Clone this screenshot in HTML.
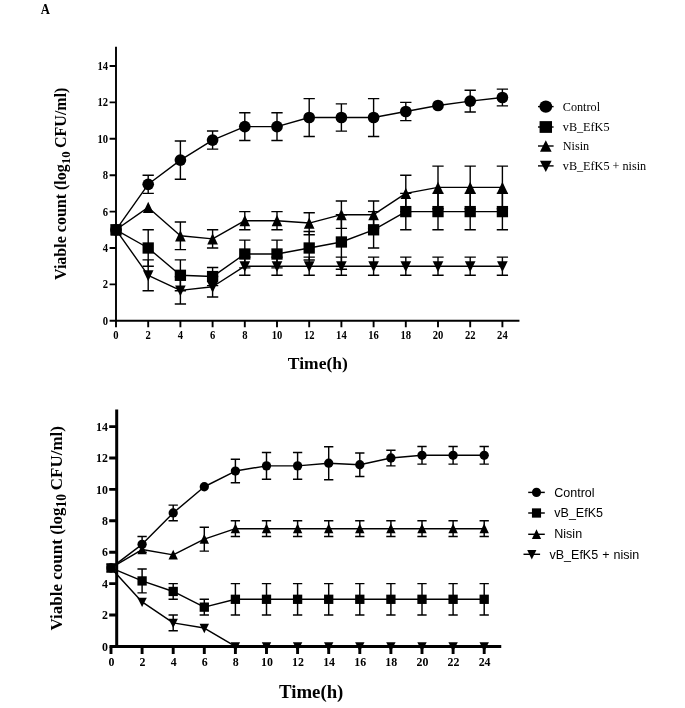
<!DOCTYPE html>
<html><head><meta charset="utf-8"><title>Figure</title>
<style>html,body{margin:0;padding:0;background:#fff}body{width:685px;height:708px;overflow:hidden;font-family:"Liberation Serif",serif}</style>
</head><body>
<svg width="685" height="708" viewBox="0 0 685 708" style="display:block;will-change:transform" font-family="'Liberation Serif',serif" fill="#000">
<rect width="685" height="708" fill="#fff"/>
<text transform="translate(40.7 13.9) scale(1 1.18)" font-size="12.7" font-weight="bold">A</text>
<path d="M116 229.8L148.2 184.3L180.4 160.09L212.6 140.07L244.8 126.61L277 126.61L309.2 117.51L341.4 117.51L373.6 117.51L405.8 111.5L438 105.49L470.2 101.13L502.4 97.49" fill="none" stroke="#000" stroke-width="1.4" stroke-linejoin="round"/>
<path d="M148.2 175.2V193.4M142.55 175.2H153.85M142.55 193.4H153.85M180.4 140.98V179.2M174.75 140.98H186.05M174.75 179.2H186.05M212.6 130.97V149.17M206.95 130.97H218.25M206.95 149.17H218.25M244.8 112.77V140.44M239.15 112.77H250.45M239.15 140.44H250.45M277 112.77V140.44M271.35 112.77H282.65M271.35 140.44H282.65M309.2 98.58V136.43M303.55 98.58H314.85M303.55 136.43H314.85M341.4 103.86V131.16M335.75 103.86H347.05M335.75 131.16H347.05M373.6 98.58V136.43M367.95 98.58H379.25M367.95 136.43H379.25M405.8 102.4V120.6M400.15 102.4H411.45M400.15 120.6H411.45M470.2 90.21V112.05M464.55 90.21H475.85M464.55 112.05H475.85M502.4 89.11V105.86M496.75 89.11H508.05M496.75 105.86H508.05" fill="none" stroke="#000" stroke-width="1.4"/>
<g fill="#000"><circle cx="116" cy="229.8" r="5.85"/><circle cx="148.2" cy="184.3" r="5.85"/><circle cx="180.4" cy="160.09" r="5.85"/><circle cx="212.6" cy="140.07" r="5.85"/><circle cx="244.8" cy="126.61" r="5.85"/><circle cx="277" cy="126.61" r="5.85"/><circle cx="309.2" cy="117.51" r="5.85"/><circle cx="341.4" cy="117.51" r="5.85"/><circle cx="373.6" cy="117.51" r="5.85"/><circle cx="405.8" cy="111.5" r="5.85"/><circle cx="438" cy="105.49" r="5.85"/><circle cx="470.2" cy="101.13" r="5.85"/><circle cx="502.4" cy="97.49" r="5.85"/></g>
<path d="M116 229.8L148.2 207.41L180.4 235.81L212.6 238.9L244.8 220.7L277 220.7L309.2 223.07L341.4 214.69L373.6 214.69L405.8 193.4L438 187.39L470.2 187.39L502.4 187.39" fill="none" stroke="#000" stroke-width="1.4" stroke-linejoin="round"/>
<path d="M180.4 221.97V249.64M174.75 221.97H186.05M174.75 249.64H186.05M212.6 229.8V248M206.95 229.8H218.25M206.95 248H218.25M244.8 211.6V229.8M239.15 211.6H250.45M239.15 229.8H250.45M277 211.6V229.8M271.35 211.6H282.65M271.35 229.8H282.65M309.2 212.69V234.71M303.55 212.69H314.85M303.55 234.71H314.85M341.4 201.04V228.34M335.75 201.04H347.05M335.75 228.34H347.05M373.6 201.04V228.34M367.95 201.04H379.25M367.95 228.34H379.25M405.8 175.2V211.6M400.15 175.2H411.45M400.15 211.6H411.45M438 166.1V208.69M432.35 166.1H443.65M432.35 208.69H443.65M470.2 166.1V208.69M464.55 166.1H475.85M464.55 208.69H475.85M502.4 166.1V208.69M496.75 166.1H508.05M496.75 208.69H508.05" fill="none" stroke="#000" stroke-width="1.4"/>
<g fill="#000"><path d="M116 224.2L121.3 235.4L110.7 235.4Z"/><path d="M148.2 201.81L153.5 213.01L142.9 213.01Z"/><path d="M180.4 230.21L185.7 241.41L175.1 241.41Z"/><path d="M212.6 233.3L217.9 244.5L207.3 244.5Z"/><path d="M244.8 215.1L250.1 226.3L239.5 226.3Z"/><path d="M277 215.1L282.3 226.3L271.7 226.3Z"/><path d="M309.2 217.47L314.5 228.67L303.9 228.67Z"/><path d="M341.4 209.09L346.7 220.29L336.1 220.29Z"/><path d="M373.6 209.09L378.9 220.29L368.3 220.29Z"/><path d="M405.8 187.8L411.1 199L400.5 199Z"/><path d="M438 181.79L443.3 192.99L432.7 192.99Z"/><path d="M470.2 181.79L475.5 192.99L464.9 192.99Z"/><path d="M502.4 181.79L507.7 192.99L497.1 192.99Z"/></g>
<path d="M116 229.8L148.2 275.3L180.4 290.41L212.6 286.77L244.8 266.2L277 266.2L309.2 266.2L341.4 266.2L373.6 266.2L405.8 266.2L438 266.2L470.2 266.2L502.4 266.2" fill="none" stroke="#000" stroke-width="1.4" stroke-linejoin="round"/>
<path d="M148.2 259.83V290.77M142.55 259.83H153.85M142.55 290.77H153.85M180.4 276.76V304.06M174.75 276.76H186.05M174.75 304.06H186.05M212.6 276.57V296.96M206.95 276.57H218.25M206.95 296.96H218.25M244.8 257.1V275.3M239.15 257.1H250.45M239.15 275.3H250.45M277 257.1V275.3M271.35 257.1H282.65M271.35 275.3H282.65M309.2 257.1V275.3M303.55 257.1H314.85M303.55 275.3H314.85M341.4 257.1V275.3M335.75 257.1H347.05M335.75 275.3H347.05M373.6 257.1V275.3M367.95 257.1H379.25M367.95 275.3H379.25M405.8 257.1V275.3M400.15 257.1H411.45M400.15 275.3H411.45M438 257.1V275.3M432.35 257.1H443.65M432.35 275.3H443.65M470.2 257.1V275.3M464.55 257.1H475.85M464.55 275.3H475.85M502.4 257.1V275.3M496.75 257.1H508.05M496.75 275.3H508.05" fill="none" stroke="#000" stroke-width="1.4"/>
<g fill="#000"><path d="M116 235.7L121.3 224.8L110.7 224.8Z"/><path d="M148.2 281.2L153.5 270.3L142.9 270.3Z"/><path d="M180.4 296.31L185.7 285.41L175.1 285.41Z"/><path d="M212.6 292.67L217.9 281.77L207.3 281.77Z"/><path d="M244.8 272.1L250.1 261.2L239.5 261.2Z"/><path d="M277 272.1L282.3 261.2L271.7 261.2Z"/><path d="M309.2 272.1L314.5 261.2L303.9 261.2Z"/><path d="M341.4 272.1L346.7 261.2L336.1 261.2Z"/><path d="M373.6 272.1L378.9 261.2L368.3 261.2Z"/><path d="M405.8 272.1L411.1 261.2L400.5 261.2Z"/><path d="M438 272.1L443.3 261.2L432.7 261.2Z"/><path d="M470.2 272.1L475.5 261.2L464.9 261.2Z"/><path d="M502.4 272.1L507.7 261.2L497.1 261.2Z"/></g>
<path d="M116 229.8L148.2 248L180.4 275.3L212.6 276.57L244.8 254.01L277 254.01L309.2 248L341.4 241.99L373.6 229.8L405.8 211.6L438 211.6L470.2 211.6L502.4 211.6" fill="none" stroke="#000" stroke-width="1.4" stroke-linejoin="round"/>
<path d="M148.2 229.8V266.2M142.55 229.8H153.85M142.55 266.2H153.85M180.4 259.83V290.77M174.75 259.83H186.05M174.75 290.77H186.05M212.6 267.47V285.67M206.95 267.47H218.25M206.95 285.67H218.25M244.8 240.17V267.84M239.15 240.17H250.45M239.15 267.84H250.45M277 240.17V267.84M271.35 240.17H282.65M271.35 267.84H282.65M309.2 231.44V260.01M303.55 231.44H314.85M303.55 260.01H314.85M341.4 214.69V269.29M335.75 214.69H347.05M335.75 269.29H347.05M373.6 211.6V248M367.95 211.6H379.25M367.95 248H379.25M405.8 193.4V229.8M400.15 193.4H411.45M400.15 229.8H411.45M438 193.4V229.8M432.35 193.4H443.65M432.35 229.8H443.65M470.2 193.4V229.8M464.55 193.4H475.85M464.55 229.8H475.85M502.4 193.4V229.8M496.75 193.4H508.05M496.75 229.8H508.05" fill="none" stroke="#000" stroke-width="1.4"/>
<g fill="#000"><rect x="110.35" y="224.15" width="11.3" height="11.3"/><rect x="142.55" y="242.35" width="11.3" height="11.3"/><rect x="174.75" y="269.65" width="11.3" height="11.3"/><rect x="206.95" y="270.92" width="11.3" height="11.3"/><rect x="239.15" y="248.36" width="11.3" height="11.3"/><rect x="271.35" y="248.36" width="11.3" height="11.3"/><rect x="303.55" y="242.35" width="11.3" height="11.3"/><rect x="335.75" y="236.34" width="11.3" height="11.3"/><rect x="367.95" y="224.15" width="11.3" height="11.3"/><rect x="400.15" y="205.95" width="11.3" height="11.3"/><rect x="432.35" y="205.95" width="11.3" height="11.3"/><rect x="464.55" y="205.95" width="11.3" height="11.3"/><rect x="496.75" y="205.95" width="11.3" height="11.3"/></g>
<path d="M116 46.85V327.2M109.6 320.8H519.45" fill="none" stroke="#000" stroke-width="1.9"/>
<path d="M148.2 320.8V327.2M180.4 320.8V327.2M212.6 320.8V327.2M244.8 320.8V327.2M277 320.8V327.2M309.2 320.8V327.2M341.4 320.8V327.2M373.6 320.8V327.2M405.8 320.8V327.2M438 320.8V327.2M470.2 320.8V327.2M502.4 320.8V327.2M109.6 284.4H116M109.6 248H116M109.6 211.6H116M109.6 175.2H116M109.6 138.8H116M109.6 102.4H116M109.6 66H116" fill="none" stroke="#000" stroke-width="1.9"/>
<text transform="translate(116 338.9) scale(1 1.1)" text-anchor="middle" font-size="10.6" font-weight="bold">0</text>
<text transform="translate(148.2 338.9) scale(1 1.1)" text-anchor="middle" font-size="10.6" font-weight="bold">2</text>
<text transform="translate(180.4 338.9) scale(1 1.1)" text-anchor="middle" font-size="10.6" font-weight="bold">4</text>
<text transform="translate(212.6 338.9) scale(1 1.1)" text-anchor="middle" font-size="10.6" font-weight="bold">6</text>
<text transform="translate(244.8 338.9) scale(1 1.1)" text-anchor="middle" font-size="10.6" font-weight="bold">8</text>
<text transform="translate(277 338.9) scale(1 1.1)" text-anchor="middle" font-size="10.6" font-weight="bold">10</text>
<text transform="translate(309.2 338.9) scale(1 1.1)" text-anchor="middle" font-size="10.6" font-weight="bold">12</text>
<text transform="translate(341.4 338.9) scale(1 1.1)" text-anchor="middle" font-size="10.6" font-weight="bold">14</text>
<text transform="translate(373.6 338.9) scale(1 1.1)" text-anchor="middle" font-size="10.6" font-weight="bold">16</text>
<text transform="translate(405.8 338.9) scale(1 1.1)" text-anchor="middle" font-size="10.6" font-weight="bold">18</text>
<text transform="translate(438 338.9) scale(1 1.1)" text-anchor="middle" font-size="10.6" font-weight="bold">20</text>
<text transform="translate(470.2 338.9) scale(1 1.1)" text-anchor="middle" font-size="10.6" font-weight="bold">22</text>
<text transform="translate(502.4 338.9) scale(1 1.1)" text-anchor="middle" font-size="10.6" font-weight="bold">24</text>
<text transform="translate(108 324.7) scale(1 1.1)" text-anchor="end" font-size="10.6" font-weight="bold">0</text>
<text transform="translate(108 288.3) scale(1 1.1)" text-anchor="end" font-size="10.6" font-weight="bold">2</text>
<text transform="translate(108 251.9) scale(1 1.1)" text-anchor="end" font-size="10.6" font-weight="bold">4</text>
<text transform="translate(108 215.5) scale(1 1.1)" text-anchor="end" font-size="10.6" font-weight="bold">6</text>
<text transform="translate(108 179.1) scale(1 1.1)" text-anchor="end" font-size="10.6" font-weight="bold">8</text>
<text transform="translate(108 142.7) scale(1 1.1)" text-anchor="end" font-size="10.6" font-weight="bold">10</text>
<text transform="translate(108 106.3) scale(1 1.1)" text-anchor="end" font-size="10.6" font-weight="bold">12</text>
<text transform="translate(108 69.9) scale(1 1.1)" text-anchor="end" font-size="10.6" font-weight="bold">14</text>
<text x="317.85" y="368.65" text-anchor="middle" font-size="17.5" font-weight="bold">Time(h)</text>
<text transform="translate(66.3 183.8) rotate(-90)" text-anchor="middle" font-size="16" font-weight="bold">Viable count (log<tspan font-size="12.8" dy="3.84">10</tspan><tspan dy="-3.84" dx="-0.6"> CFU/ml)</tspan></text>
<path d="M538 106.6H553.6" stroke="#000" stroke-width="1.4"/>
<g fill="#000" transform="translate(545.8 106.6) scale(1.1 1.04)"><circle cx="0" cy="0" r="5.85"/></g>
<text x="562.8" y="111" font-size="12.2" font-family="'Liberation Serif',serif">Control</text>
<path d="M538 127H553.6" stroke="#000" stroke-width="1.4"/>
<g fill="#000" transform="translate(545.8 127) scale(1.1 1.04)"><rect x="-5.65" y="-5.65" width="11.3" height="11.3"/></g>
<text x="562.8" y="130.5" font-size="12.2" font-family="'Liberation Serif',serif">vB_EfK5</text>
<path d="M538 146H553.6" stroke="#000" stroke-width="1.4"/>
<g fill="#000" transform="translate(545.8 146) scale(1.1 1.04)"><path d="M0 -5.6L5.3 5.6L-5.3 5.6Z"/></g>
<text x="562.8" y="149.7" font-size="12.2" font-family="'Liberation Serif',serif">Nisin</text>
<path d="M538 165.9H553.6" stroke="#000" stroke-width="1.4"/>
<g fill="#000" transform="translate(545.8 165.9) scale(1.1 1.04)"><path d="M0 5.9L5.3 -5L-5.3 -5Z"/></g>
<text x="562.8" y="169.7" font-size="12.2" font-family="'Liberation Serif',serif">vB_EfK5 + nisin</text>
<path d="M111 567.9L142.1 544.35L173.2 512.95L204.3 486.73L235.4 471.03L266.5 465.85L297.6 465.85L328.7 463.18L359.8 464.75L390.9 458L422 455.33L453.1 455.33L484.2 455.33" fill="none" stroke="#000" stroke-width="1.45" stroke-linejoin="round"/>
<path d="M142.1 536.5V552.2M137.45 536.5H146.75M137.45 552.2H146.75M173.2 505.1V520.8M168.55 505.1H177.85M168.55 520.8H177.85M235.4 459.26V482.81M230.75 459.26H240.05M230.75 482.81H240.05M266.5 452.5V479.19M261.85 452.5H271.15M261.85 479.19H271.15M297.6 452.5V479.19M292.95 452.5H302.25M292.95 479.19H302.25M328.7 446.7V479.67M324.05 446.7H333.35M324.05 479.67H333.35M359.8 452.98V476.53M355.15 452.98H364.45M355.15 476.53H364.45M390.9 450.15V465.85M386.25 450.15H395.55M386.25 465.85H395.55M422 446.54V464.12M417.35 446.54H426.65M417.35 464.12H426.65M453.1 446.54V464.12M448.45 446.54H457.75M448.45 464.12H457.75M484.2 446.54V464.12M479.55 446.54H488.85M479.55 464.12H488.85" fill="none" stroke="#000" stroke-width="1.45"/>
<g fill="#000"><circle cx="111" cy="567.9" r="4.65"/><circle cx="142.1" cy="544.35" r="4.65"/><circle cx="173.2" cy="512.95" r="4.65"/><circle cx="204.3" cy="486.73" r="4.65"/><circle cx="235.4" cy="471.03" r="4.65"/><circle cx="266.5" cy="465.85" r="4.65"/><circle cx="297.6" cy="465.85" r="4.65"/><circle cx="328.7" cy="463.18" r="4.65"/><circle cx="359.8" cy="464.75" r="4.65"/><circle cx="390.9" cy="458" r="4.65"/><circle cx="422" cy="455.33" r="4.65"/><circle cx="453.1" cy="455.33" r="4.65"/><circle cx="484.2" cy="455.33" r="4.65"/></g>
<path d="M111 567.9L142.1 549.53L173.2 554.87L204.3 539.17L235.4 528.65L266.5 528.65L297.6 528.65L328.7 528.65L359.8 528.65L390.9 528.65L422 528.65L453.1 528.65L484.2 528.65" fill="none" stroke="#000" stroke-width="1.45" stroke-linejoin="round"/>
<path d="M204.3 527.24V551.1M199.65 527.24H208.95M199.65 551.1H208.95M235.4 520.8V536.5M230.75 520.8H240.05M230.75 536.5H240.05M266.5 520.8V536.5M261.85 520.8H271.15M261.85 536.5H271.15M297.6 520.8V536.5M292.95 520.8H302.25M292.95 536.5H302.25M328.7 520.8V536.5M324.05 520.8H333.35M324.05 536.5H333.35M359.8 520.8V536.5M355.15 520.8H364.45M355.15 536.5H364.45M390.9 520.8V536.5M386.25 520.8H395.55M386.25 536.5H395.55M422 520.8V536.5M417.35 520.8H426.65M417.35 536.5H426.65M453.1 520.8V536.5M448.45 520.8H457.75M448.45 536.5H457.75M484.2 520.8V536.5M479.55 520.8H488.85M479.55 536.5H488.85" fill="none" stroke="#000" stroke-width="1.45"/>
<g fill="#000"><path d="M111 562.8L115.7 572.5L106.3 572.5Z"/><path d="M142.1 544.43L146.8 554.13L137.4 554.13Z"/><path d="M173.2 549.77L177.9 559.47L168.5 559.47Z"/><path d="M204.3 534.07L209 543.77L199.6 543.77Z"/><path d="M235.4 523.55L240.1 533.25L230.7 533.25Z"/><path d="M266.5 523.55L271.2 533.25L261.8 533.25Z"/><path d="M297.6 523.55L302.3 533.25L292.9 533.25Z"/><path d="M328.7 523.55L333.4 533.25L324 533.25Z"/><path d="M359.8 523.55L364.5 533.25L355.1 533.25Z"/><path d="M390.9 523.55L395.6 533.25L386.2 533.25Z"/><path d="M422 523.55L426.7 533.25L417.3 533.25Z"/><path d="M453.1 523.55L457.8 533.25L448.4 533.25Z"/><path d="M484.2 523.55L488.9 533.25L479.5 533.25Z"/></g>
<path d="M111 567.9L142.1 601.97L173.2 622.85L204.3 628.03L235.4 646.4L266.5 646.4L297.6 646.4L328.7 646.4L359.8 646.4L390.9 646.4L422 646.4L453.1 646.4L484.2 646.4" fill="none" stroke="#000" stroke-width="1.45" stroke-linejoin="round"/>
<path d="M173.2 615V630.7M168.55 615H177.85M168.55 630.7H177.85" fill="none" stroke="#000" stroke-width="1.45"/>
<g fill="#000"><path d="M111 573L115.7 563.7L106.3 563.7Z"/><path d="M142.1 607.07L146.8 597.77L137.4 597.77Z"/><path d="M173.2 627.95L177.9 618.65L168.5 618.65Z"/><path d="M204.3 633.13L209 623.83L199.6 623.83Z"/><path d="M235.4 651.5L240.1 642.2L230.7 642.2Z"/><path d="M266.5 651.5L271.2 642.2L261.8 642.2Z"/><path d="M297.6 651.5L302.3 642.2L292.9 642.2Z"/><path d="M328.7 651.5L333.4 642.2L324 642.2Z"/><path d="M359.8 651.5L364.5 642.2L355.1 642.2Z"/><path d="M390.9 651.5L395.6 642.2L386.2 642.2Z"/><path d="M422 651.5L426.7 642.2L417.3 642.2Z"/><path d="M453.1 651.5L457.8 642.2L448.4 642.2Z"/><path d="M484.2 651.5L488.9 642.2L479.5 642.2Z"/></g>
<path d="M111 567.9L142.1 580.93L173.2 591.45L204.3 607.15L235.4 599.3L266.5 599.3L297.6 599.3L328.7 599.3L359.8 599.3L390.9 599.3L422 599.3L453.1 599.3L484.2 599.3" fill="none" stroke="#000" stroke-width="1.45" stroke-linejoin="round"/>
<path d="M142.1 569V592.86M137.45 569H146.75M137.45 592.86H146.75M173.2 583.6V599.3M168.55 583.6H177.85M168.55 599.3H177.85M204.3 599.3V615M199.65 599.3H208.95M199.65 615H208.95M235.4 583.6V615M230.75 583.6H240.05M230.75 615H240.05M266.5 583.6V615M261.85 583.6H271.15M261.85 615H271.15M297.6 583.6V615M292.95 583.6H302.25M292.95 615H302.25M328.7 583.6V615M324.05 583.6H333.35M324.05 615H333.35M359.8 583.6V615M355.15 583.6H364.45M355.15 615H364.45M390.9 583.6V615M386.25 583.6H395.55M386.25 615H395.55M422 583.6V615M417.35 583.6H426.65M417.35 615H426.65M453.1 583.6V615M448.45 583.6H457.75M448.45 615H457.75M484.2 583.6V615M479.55 583.6H488.85M479.55 615H488.85" fill="none" stroke="#000" stroke-width="1.45"/>
<g fill="#000"><rect x="106.35" y="563.25" width="9.3" height="9.3"/><rect x="137.45" y="576.28" width="9.3" height="9.3"/><rect x="168.55" y="586.8" width="9.3" height="9.3"/><rect x="199.65" y="602.5" width="9.3" height="9.3"/><rect x="230.75" y="594.65" width="9.3" height="9.3"/><rect x="261.85" y="594.65" width="9.3" height="9.3"/><rect x="292.95" y="594.65" width="9.3" height="9.3"/><rect x="324.05" y="594.65" width="9.3" height="9.3"/><rect x="355.15" y="594.65" width="9.3" height="9.3"/><rect x="386.25" y="594.65" width="9.3" height="9.3"/><rect x="417.35" y="594.65" width="9.3" height="9.3"/><rect x="448.45" y="594.65" width="9.3" height="9.3"/><rect x="479.55" y="594.65" width="9.3" height="9.3"/></g>
<path d="M116.7 409.4V646.4M109.5 646.4H501.25" fill="none" stroke="#000" stroke-width="3"/>
<path d="M111 646.4V653.9M142.1 646.4V653.9M173.2 646.4V653.9M204.3 646.4V653.9M235.4 646.4V653.9M266.5 646.4V653.9M297.6 646.4V653.9M328.7 646.4V653.9M359.8 646.4V653.9M390.9 646.4V653.9M422 646.4V653.9M453.1 646.4V653.9M484.2 646.4V653.9M109.2 615H116.7M109.2 583.6H116.7M109.2 552.2H116.7M109.2 520.8H116.7M109.2 489.4H116.7M109.2 458H116.7M109.2 426.6H116.7" fill="none" stroke="#000" stroke-width="2.9"/>
<text transform="translate(111.4 666.2) scale(1 1.06)" text-anchor="middle" font-size="11.9" font-weight="bold">0</text>
<text transform="translate(142.5 666.2) scale(1 1.06)" text-anchor="middle" font-size="11.9" font-weight="bold">2</text>
<text transform="translate(173.6 666.2) scale(1 1.06)" text-anchor="middle" font-size="11.9" font-weight="bold">4</text>
<text transform="translate(204.7 666.2) scale(1 1.06)" text-anchor="middle" font-size="11.9" font-weight="bold">6</text>
<text transform="translate(235.8 666.2) scale(1 1.06)" text-anchor="middle" font-size="11.9" font-weight="bold">8</text>
<text transform="translate(266.9 666.2) scale(1 1.06)" text-anchor="middle" font-size="11.9" font-weight="bold">10</text>
<text transform="translate(298 666.2) scale(1 1.06)" text-anchor="middle" font-size="11.9" font-weight="bold">12</text>
<text transform="translate(329.1 666.2) scale(1 1.06)" text-anchor="middle" font-size="11.9" font-weight="bold">14</text>
<text transform="translate(360.2 666.2) scale(1 1.06)" text-anchor="middle" font-size="11.9" font-weight="bold">16</text>
<text transform="translate(391.3 666.2) scale(1 1.06)" text-anchor="middle" font-size="11.9" font-weight="bold">18</text>
<text transform="translate(422.4 666.2) scale(1 1.06)" text-anchor="middle" font-size="11.9" font-weight="bold">20</text>
<text transform="translate(453.5 666.2) scale(1 1.06)" text-anchor="middle" font-size="11.9" font-weight="bold">22</text>
<text transform="translate(484.6 666.2) scale(1 1.06)" text-anchor="middle" font-size="11.9" font-weight="bold">24</text>
<text transform="translate(108 650.6) scale(1 1.06)" text-anchor="end" font-size="11.9" font-weight="bold">0</text>
<text transform="translate(108 619.2) scale(1 1.06)" text-anchor="end" font-size="11.9" font-weight="bold">2</text>
<text transform="translate(108 587.8) scale(1 1.06)" text-anchor="end" font-size="11.9" font-weight="bold">4</text>
<text transform="translate(108 556.4) scale(1 1.06)" text-anchor="end" font-size="11.9" font-weight="bold">6</text>
<text transform="translate(108 525) scale(1 1.06)" text-anchor="end" font-size="11.9" font-weight="bold">8</text>
<text transform="translate(108 493.6) scale(1 1.06)" text-anchor="end" font-size="11.9" font-weight="bold">10</text>
<text transform="translate(108 462.2) scale(1 1.06)" text-anchor="end" font-size="11.9" font-weight="bold">12</text>
<text transform="translate(108 430.8) scale(1 1.06)" text-anchor="end" font-size="11.9" font-weight="bold">14</text>
<text x="311.2" y="697.6" text-anchor="middle" font-size="18.8" font-weight="bold">Time(h)</text>
<text transform="translate(62 528.3) rotate(-90)" text-anchor="middle" font-size="17" font-weight="bold">Viable count (log<tspan font-size="13.6" dy="4.08">10</tspan><tspan dy="-4.08" dx="-0.6"> CFU/ml)</tspan></text>
<path d="M528.2 492.4H544.8" stroke="#000" stroke-width="1.45"/>
<g fill="#000" transform="translate(536.5 492.4) scale(0.98 1)"><circle cx="0" cy="0" r="4.65"/></g>
<text x="554.3" y="496.5" font-size="12.5" font-family="'Liberation Sans',sans-serif" word-spacing="0.6">Control</text>
<path d="M528.2 513H544.8" stroke="#000" stroke-width="1.45"/>
<g fill="#000" transform="translate(536.5 513) scale(0.98 1)"><rect x="-4.65" y="-4.65" width="9.3" height="9.3"/></g>
<text x="554.3" y="517.3" font-size="12.5" font-family="'Liberation Sans',sans-serif" word-spacing="0.6">vB_EfK5</text>
<path d="M528.2 534.3H544.8" stroke="#000" stroke-width="1.45"/>
<g fill="#000" transform="translate(536.5 534.3) scale(0.98 1)"><path d="M0 -5.1L4.7 4.6L-4.7 4.6Z"/></g>
<text x="554.3" y="538.4" font-size="12.5" font-family="'Liberation Sans',sans-serif" word-spacing="0.6">Nisin</text>
<path d="M523.5 554.3H540.1" stroke="#000" stroke-width="1.45"/>
<g fill="#000" transform="translate(531.8 554.3) scale(0.98 1)"><path d="M0 5.1L4.7 -4.2L-4.7 -4.2Z"/></g>
<text x="549.5" y="559.2" font-size="12.5" font-family="'Liberation Sans',sans-serif" word-spacing="0.6">vB_EfK5 + nisin</text>
</svg>
</body></html>
